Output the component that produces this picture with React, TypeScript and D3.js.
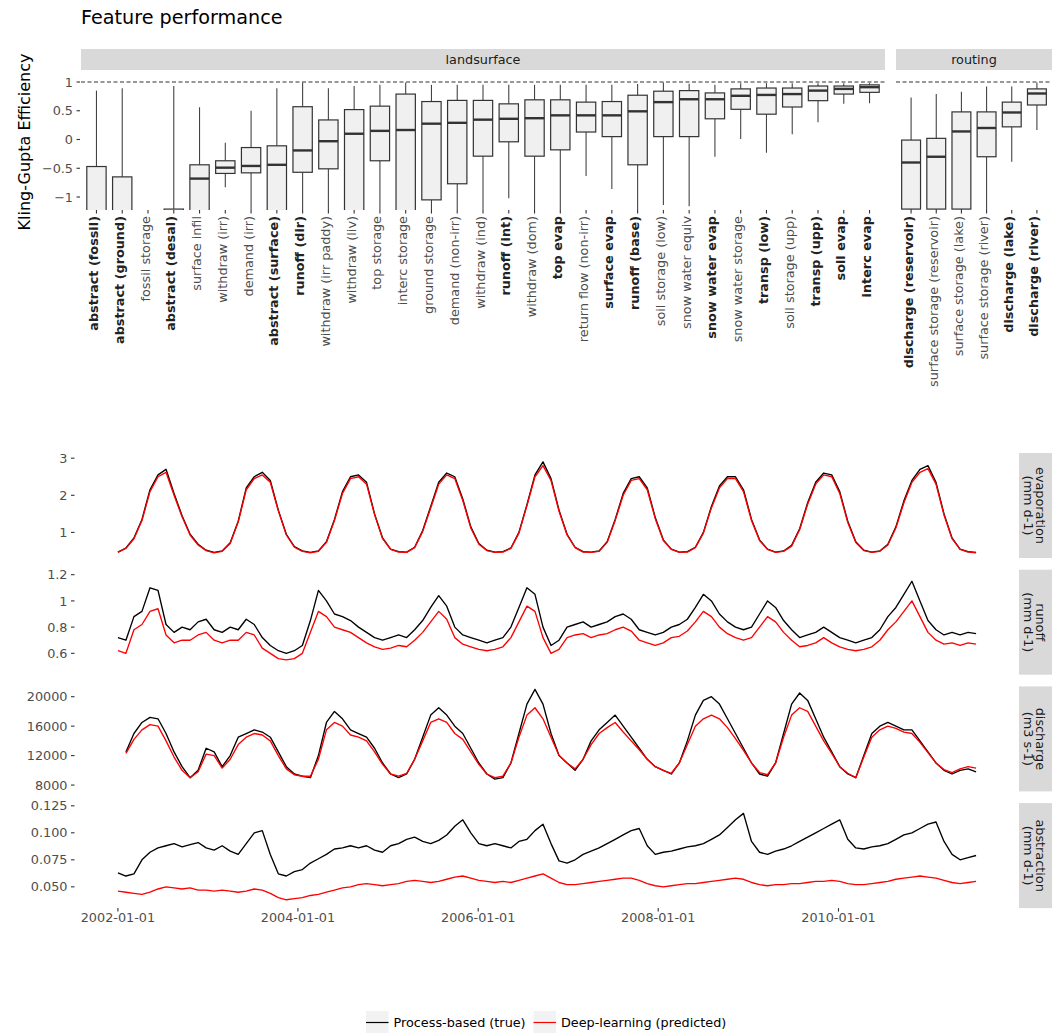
import React from "react";
import * as d3 from "d3";

const FONT = "'DejaVu Sans', sans-serif";

// ---------------- KGE box-plot data ----------------
const landCategories = [
  "abstract (fossil)", "abstract (ground)", "fossil storage", "abstract (desal)", "surface infil",
  "withdraw (irr)", "demand (irr)", "abstract (surface)", "runoff (dir)", "withdraw (irr paddy)",
  "withdraw (liv)", "top storage", "interc storage", "ground storage", "demand (non-irr)",
  "withdraw (ind)", "runoff (int)", "withdraw (dom)", "top evap", "return flow (non-irr)",
  "surface evap", "runoff (base)", "soil storage (low)", "snow water equiv", "snow water evap",
  "snow water storage", "transp (low)", "soil storage (upp)", "transp (upp)", "soil evap", "interc evap",
];
const landBold = [
  true, true, false, true, false, false, false, true, true, false, false, false, false, false, false,
  false, true, false, true, false, true, true, false, false, true, false, true, false, true, true, true,
];
const landLower = [-3, -3, -5, -4, -3, -0.83, -2, -3, -2.5, -2.5, -3, -2.5, -3, -2.5, -2.5, -2, -1.02, -2, -2, -0.635, -0.86, -2, -1.14, -1.16, -0.3, 0.01, -0.23, 0.09, 0.3, 0.62, 0.63];
const landQ1 = [-2.4, -2.4, -4, -3, -2, -0.59, -0.58, -1.8, -0.57, -0.51, -1.5, -0.37, -1.5, -1.05, -0.77, -0.29, -0.04, -0.29, -0.18, 0.13, 0.05, -0.44, 0.05, 0.05, 0.36, 0.525, 0.44, 0.565, 0.675, 0.79, 0.82];
const landMedian = [-1.6, -1.7, -3, -2, -0.68, -0.49, -0.46, -0.44, -0.19, -0.03, 0.1, 0.15, 0.165, 0.275, 0.29, 0.345, 0.36, 0.37, 0.42, 0.42, 0.42, 0.49, 0.65, 0.7, 0.7, 0.76, 0.775, 0.79, 0.85, 0.88, 0.91];
const landQ3 = [-0.47, -0.65, -2, -1.21, -0.44, -0.37, -0.14, -0.11, 0.57, 0.34, 0.52, 0.58, 0.79, 0.66, 0.68, 0.68, 0.62, 0.69, 0.69, 0.65, 0.66, 0.77, 0.84, 0.85, 0.81, 0.88, 0.895, 0.895, 0.93, 0.93, 0.95];
const landUpper = [0.85, 0.89, -1.5, 0.93, 0.56, -0.055, 0.5, 0.89, 0.99, 0.89, 0.93, 0.95, 0.99, 0.95, 0.95, 0.95, 0.95, 0.95, 0.95, 0.95, 0.95, 0.965, 0.99, 0.97, 0.95, 0.98, 0.98, 0.98, 0.98, 0.98, 0.98];

const routingCategories = [
  "discharge (reservoir)", "surface storage (reservoir)", "surface storage (lake)",
  "surface storage (river)", "discharge (lake)", "discharge (river)",
];
const routingBold = [true, false, false, false, true, true];
const routingLower = [-3, -3, -3, -2, -0.385, 0.165];
const routingQ1 = [-1.21, -1.21, -1.21, -0.3, 0.22, 0.6];
const routingMedian = [-0.4, -0.3, 0.14, 0.2, 0.47, 0.8];
const routingQ3 = [-0.01, 0.02, 0.48, 0.48, 0.65, 0.88];
const routingUpper = [0.73, 0.79, 0.83, 0.92, 0.92, 0.99];

const kgeTicks = [-1, -0.5, 0, 0.5, 1];
const kgeTickLabels = ["\u22121", "\u22120.5", "0", "0.5", "1"];

// ---------------- Time series data ----------------
const seriesStart = new Date(2002, 0, 1);
const seriesEnd = new Date(2011, 6, 13);

const evapTrue = [
  0.47, 0.58, 0.85, 1.35, 2.15, 2.55, 2.7, 2.05, 1.45, 0.95, 0.68, 0.52, 0.46, 0.5, 0.72, 1.3, 2.2, 2.5,
  2.62, 2.4, 1.6, 0.95, 0.62, 0.5, 0.46, 0.5, 0.75, 1.35, 2.1, 2.5, 2.55, 2.35, 1.5, 0.85, 0.55, 0.48,
  0.47, 0.6, 1.05, 1.7, 2.35, 2.6, 2.5, 1.9, 1.15, 0.7, 0.52, 0.47, 0.48, 0.58, 1.0, 1.75, 2.55, 2.9,
  2.45, 1.6, 0.95, 0.6, 0.48, 0.47, 0.5, 0.75, 1.35, 2.05, 2.45, 2.5, 2.2, 1.4, 0.8, 0.55, 0.47, 0.48,
  0.6, 1.0, 1.7, 2.25, 2.5, 2.5, 2.15, 1.35, 0.8, 0.55, 0.47, 0.5, 0.65, 1.1, 1.8, 2.35, 2.6, 2.55,
  2.1, 1.3, 0.75, 0.52, 0.47, 0.5, 0.68, 1.15, 1.85, 2.4, 2.7, 2.8, 2.35, 1.5, 0.85, 0.55, 0.48, 0.46,
];
const evapPred = [
  0.46, 0.57, 0.83, 1.32, 2.1, 2.5, 2.62, 2.0, 1.42, 0.93, 0.66, 0.51, 0.45, 0.49, 0.7, 1.28, 2.15, 2.45,
  2.55, 2.35, 1.58, 0.93, 0.6, 0.49, 0.45, 0.49, 0.73, 1.32, 2.05, 2.45, 2.5, 2.3, 1.48, 0.83, 0.54, 0.47,
  0.46, 0.59, 1.02, 1.66, 2.3, 2.55, 2.45, 1.86, 1.12, 0.68, 0.51, 0.46, 0.47, 0.57, 0.98, 1.72, 2.5, 2.8,
  2.4, 1.57, 0.93, 0.59, 0.47, 0.46, 0.49, 0.73, 1.32, 2.0, 2.4, 2.45, 2.15, 1.37, 0.78, 0.54, 0.46, 0.47,
  0.59, 0.98, 1.66, 2.2, 2.45, 2.45, 2.1, 1.32, 0.78, 0.54, 0.46, 0.49, 0.63, 1.07, 1.76, 2.3, 2.55, 2.5,
  2.05, 1.27, 0.73, 0.51, 0.46, 0.49, 0.66, 1.12, 1.8, 2.35, 2.62, 2.72, 2.3, 1.47, 0.83, 0.54, 0.47, 0.45,
];
const runoffTrue = [
  0.72, 0.7, 0.88, 0.92, 1.1, 1.08, 0.82, 0.76, 0.8, 0.78, 0.84, 0.86, 0.78, 0.76, 0.8, 0.78, 0.86, 0.82,
  0.72, 0.66, 0.62, 0.6, 0.62, 0.66, 0.85, 1.08, 1.0, 0.9, 0.88, 0.85, 0.8, 0.76, 0.72, 0.7, 0.72, 0.74,
  0.72, 0.78, 0.85, 0.95, 1.04, 0.96, 0.8, 0.74, 0.72, 0.7, 0.68, 0.7, 0.72, 0.8, 0.95, 1.1, 1.05, 0.8,
  0.66, 0.7, 0.8, 0.82, 0.84, 0.8, 0.82, 0.84, 0.88, 0.9, 0.86, 0.78, 0.76, 0.74, 0.76, 0.8, 0.82, 0.86,
  0.95, 1.05, 1.0, 0.9, 0.84, 0.8, 0.78, 0.8, 0.9, 1.0, 0.95, 0.85, 0.78, 0.72, 0.74, 0.76, 0.8, 0.76,
  0.72, 0.7, 0.68, 0.7, 0.72, 0.78, 0.88, 0.95, 1.05, 1.15, 1.0, 0.85, 0.78, 0.74, 0.76, 0.74, 0.76, 0.75,
];
const runoffPred = [
  0.62, 0.6, 0.78, 0.82, 0.92, 0.94, 0.74, 0.68, 0.7, 0.7, 0.74, 0.76, 0.7, 0.68, 0.7, 0.7, 0.76, 0.74,
  0.64, 0.6, 0.56, 0.55, 0.56, 0.6, 0.76, 0.92, 0.88, 0.8, 0.78, 0.76, 0.72, 0.68, 0.65, 0.63, 0.64, 0.66,
  0.65, 0.7, 0.76, 0.84, 0.92, 0.86, 0.72, 0.67, 0.65, 0.63, 0.62, 0.63, 0.65, 0.72, 0.84, 0.96, 0.92, 0.72,
  0.6, 0.63, 0.72, 0.74, 0.75, 0.72, 0.74, 0.75, 0.78, 0.8, 0.77, 0.7, 0.68, 0.66, 0.68, 0.72, 0.73, 0.77,
  0.84, 0.92, 0.88, 0.8, 0.75, 0.72, 0.7, 0.72, 0.8, 0.88, 0.84, 0.76, 0.7, 0.65, 0.66, 0.68, 0.72, 0.68,
  0.65, 0.63, 0.62, 0.63, 0.65, 0.7, 0.78, 0.84, 0.92, 1.0, 0.88, 0.76, 0.7, 0.67, 0.68, 0.66, 0.68, 0.67,
];
const dischargeTrue = [
  null, 12500, 15000, 16500, 17200, 17000, 15000, 12500, 10500, 9000, 10000, 13000, 12500, 10500, 12000, 14500, 15000, 15500,
  15200, 14500, 12500, 10500, 9500, 9200, 9000, 12000, 16500, 18000, 17000, 15500, 15000, 14500, 13000, 11000, 9500, 9000,
  9500, 11500, 14500, 17500, 18500, 17500, 16000, 15000, 13000, 11000, 9500, 8800, 9000, 11000, 15000, 19000, 21000, 19000,
  15000, 12000, 11000, 10000, 11500, 14000, 15500, 16500, 17500, 16000, 14500, 13000, 11500, 10500, 10000, 9500, 11000, 14000,
  17500, 19500, 20000, 19000, 17000, 15000, 13000, 11000, 9500, 9200, 11000, 15000, 19000, 20500, 19500, 17000, 14500, 12500,
  10500, 9500, 9000, 12000, 15000, 16000, 16500, 16000, 15500, 15500, 14000, 12500, 11000, 10000, 9500, 10000, 10200, 9800,
];
const dischargePred = [
  null, 12300, 14200, 15500, 16200, 16000, 14000, 11800, 10000, 9000, 9800, 12200, 12000, 10300, 11500, 13500, 14500, 15000,
  14800, 14000, 12000, 10200, 9400, 9200, 9200, 11500, 15500, 16500, 16000, 14800, 14500, 14000, 12500, 10800, 9500, 9200,
  9600, 11500, 14000, 16500, 17000, 16500, 15000, 14200, 12500, 10800, 9500, 9000, 9200, 11000, 14500, 17500, 18500, 17000,
  14500, 12000, 11000, 10200, 11500, 13500, 15000, 15800, 16500, 15200, 14000, 12800, 11500, 10500, 10000, 9600, 11000, 13500,
  16000, 17000, 17500, 17000, 15800, 14300, 12700, 11000, 9700, 9400, 11000, 14500, 17500, 18500, 18000, 16000, 14000, 12300,
  10500, 9600, 9000, 11800, 14500, 15500, 16000, 15700, 15200, 15000, 13800, 12400, 11000, 10100, 9700, 10200, 10500, 10300,
];
const abstractionTrue = [
  0.063, 0.06, 0.062, 0.075, 0.082, 0.086, 0.088, 0.09, 0.087, 0.089, 0.091, 0.086, 0.084, 0.088, 0.083, 0.08, 0.09, 0.1,
  0.102, 0.08, 0.062, 0.06, 0.064, 0.066, 0.072, 0.076, 0.08, 0.085, 0.086, 0.088, 0.086, 0.088, 0.084, 0.082, 0.088, 0.09,
  0.094, 0.096, 0.092, 0.09, 0.093, 0.098, 0.106, 0.112, 0.1, 0.09, 0.088, 0.09, 0.088, 0.086, 0.092, 0.094, 0.102, 0.108,
  0.09, 0.074, 0.072, 0.075, 0.08, 0.083, 0.086, 0.09, 0.094, 0.098, 0.102, 0.104, 0.088, 0.08, 0.082, 0.083, 0.085, 0.087,
  0.088, 0.09, 0.094, 0.098, 0.105, 0.112, 0.118, 0.092, 0.082, 0.08, 0.083, 0.085, 0.088, 0.092, 0.096, 0.1, 0.104, 0.108,
  0.112, 0.094, 0.086, 0.085, 0.087, 0.088, 0.09, 0.094, 0.098, 0.1, 0.104, 0.108, 0.11, 0.092, 0.08, 0.075, 0.077, 0.079,
];
const abstractionPred = [
  0.046, 0.045, 0.044, 0.043, 0.045, 0.048, 0.05, 0.049, 0.048, 0.049, 0.047, 0.047, 0.046, 0.047, 0.046, 0.045, 0.046, 0.048,
  0.047, 0.044, 0.04, 0.038, 0.039, 0.04, 0.042, 0.043, 0.045, 0.047, 0.049, 0.05, 0.052, 0.053, 0.052, 0.051, 0.052, 0.053,
  0.055, 0.056, 0.055, 0.054, 0.055, 0.057, 0.059, 0.06, 0.058, 0.056, 0.055, 0.054, 0.055, 0.054, 0.056, 0.058, 0.06, 0.062,
  0.058, 0.054, 0.052, 0.052, 0.053, 0.054, 0.055, 0.056, 0.057, 0.058, 0.058, 0.056, 0.053, 0.051, 0.05, 0.051, 0.052, 0.053,
  0.053, 0.054, 0.055, 0.056, 0.057, 0.058, 0.057, 0.054, 0.052, 0.051, 0.052, 0.052, 0.053, 0.053, 0.054, 0.055, 0.055, 0.056,
  0.055, 0.053, 0.052, 0.052, 0.053, 0.054, 0.055, 0.057, 0.058, 0.059, 0.06, 0.059, 0.058, 0.056, 0.054, 0.053, 0.054, 0.055,
];

const evapTicks = [1, 2, 3];
const evapTickLabels = ["1", "2", "3"];
const runoffTicks = [0.6, 0.8, 1.0, 1.2];
const runoffTickLabels = ["0.6", "0.8", "1", "1.2"];
const dischargeTicks = [8000, 12000, 16000, 20000];
const dischargeTickLabels = ["8000", "12000", "16000", "20000"];
const abstractionTicks = [0.05, 0.075, 0.1, 0.125];
const abstractionTickLabels = ["0.050", "0.075", "0.100", "0.125"];

const dateTicks = [new Date(2002, 0, 1), new Date(2004, 0, 1), new Date(2006, 0, 1), new Date(2008, 0, 1), new Date(2010, 0, 1)];
const dateTickLabels = ["2002-01-01", "2004-01-01", "2006-01-01", "2008-01-01", "2010-01-01"];

const legendLabels = ["Process-based (true)", "Deep-learning (predicted)"];
const legendColors = ["#000000", "#ff0000"];

// ---------------- Components ----------------
const TICK_COLOR = "#333333";
const TEXT_COLOR = "#4d4d4d";
const STRIP_FILL = "#d9d9d9";
const TICK_FS = 12.8;

type BoxFacet = {
  name: string;
  cats: string[];
  bold: boolean[];
  lower: number[];
  q1: number[];
  med: number[];
  q3: number[];
  upper: number[];
  x0: number;
  x1: number;
};

function BoxPanel({ f, y, top, bottom, id }: { f: BoxFacet; y: d3.ScaleLinear<number, number>; top: number; bottom: number; id: string }) {
  const x = d3.scaleBand<string>().domain(f.cats).range([f.x0, f.x1]).paddingInner(0).paddingOuter(0.1);
  const bw = x.step() * 0.75;
  return (
    <g>
      <rect x={f.x0} y={49} width={f.x1 - f.x0} height={21} fill={STRIP_FILL} />
      <text x={(f.x0 + f.x1) / 2} y={64} textAnchor="middle" fontSize={TICK_FS} fill="#1a1a1a">{f.name}</text>
      <clipPath id={id}>
        <rect x={f.x0} y={top} width={f.x1 - f.x0} height={bottom - top} />
      </clipPath>
      <g clipPath={`url(#${id})`}>
        <line x1={f.x0} x2={f.x1} y1={y(1)} y2={y(1)} stroke="#333" strokeWidth={1.1} strokeDasharray="4,2.5" />
        {f.cats.map((c, i) => {
          const cx = (x(c) as number) + x.bandwidth() / 2;
          return (
            <g key={c}>
              <line x1={cx} x2={cx} y1={y(f.upper[i])} y2={y(f.q3[i])} stroke="#444" strokeWidth={1.1} />
              <line x1={cx} x2={cx} y1={y(f.q1[i])} y2={y(f.lower[i])} stroke="#444" strokeWidth={1.1} />
              <rect x={cx - bw / 2} y={y(f.q3[i])} width={bw} height={y(f.q1[i]) - y(f.q3[i])} fill="#f0f0f0" stroke="#333" strokeWidth={1.2} />
              <line x1={cx - bw / 2} x2={cx + bw / 2} y1={y(f.med[i])} y2={y(f.med[i])} stroke="#333" strokeWidth={2.4} />
            </g>
          );
        })}
      </g>
      {f.cats.map((c, i) => {
        const cx = (x(c) as number) + x.bandwidth() / 2;
        return (
          <g key={c + "t"}>
            <line x1={cx} x2={cx} y1={bottom} y2={bottom + 3.5} stroke={TICK_COLOR} strokeWidth={1.1} />
            <text
              transform={`translate(${cx + 1.5},${bottom + 6}) rotate(-90)`}
              textAnchor="end"
              fontSize={TICK_FS}
              fontWeight={f.bold[i] ? "bold" : "normal"}
              fill={f.bold[i] ? "#222" : TEXT_COLOR}
            >
              {c}
            </text>
          </g>
        );
      })}
    </g>
  );
}

export default function App() {
  const W = 1061;
  const H = 1033;

  // ---- top facets ----
  const boxTop = 74;
  const boxBottom = 210;
  const yKge = d3.scaleLinear().domain([-1.226, 1.139]).range([boxBottom, boxTop]);
  const facets: BoxFacet[] = [
    { name: "landsurface", cats: landCategories, bold: landBold, lower: landLower, q1: landQ1, med: landMedian, q3: landQ3, upper: landUpper, x0: 81, x1: 885 },
    { name: "routing", cats: routingCategories, bold: routingBold, lower: routingLower, q1: routingQ1, med: routingMedian, q3: routingQ3, upper: routingUpper, x0: 896, x1: 1052 },
  ];

  // ---- time series facets ----
  const N = evapTrue.length;
  const dates = d3.range(N).map((i) => new Date(+seriesStart + (i * (+seriesEnd - +seriesStart)) / (N - 1)));
  const span = +seriesEnd - +seriesStart;
  const tsLeft = 75;
  const tsRight = 1019;
  const xT = d3
    .scaleTime()
    .domain([new Date(+seriesStart - 0.05 * span), new Date(+seriesEnd + 0.05 * span)])
    .range([tsLeft, tsRight]);

  const panelH = 105;
  const panelGap = 11.7;
  const firstTop = 453;
  const tsPanels = [
    { lines: ["evaporation", "(mm d-1)"], truth: evapTrue, pred: evapPred, domain: [0.31, 3.14], ticks: evapTicks, labels: evapTickLabels },
    { lines: ["runoff", "(mm d-1)"], truth: runoffTrue, pred: runoffPred, domain: [0.437, 1.238], ticks: runoffTicks, labels: runoffTickLabels },
    { lines: ["discharge", "(m3 s-1)"], truth: dischargeTrue, pred: dischargePred, domain: [7138, 21399], ticks: dischargeTicks, labels: dischargeTickLabels },
    { lines: ["abstraction", "(mm d-1)"], truth: abstractionTrue, pred: abstractionPred, domain: [0.0303, 0.1275], ticks: abstractionTicks, labels: abstractionTickLabels },
  ];
  const lastBottom = firstTop + 3 * (panelH + panelGap) + panelH;

  return (
    <svg
      width={W}
      height={H}
      viewBox={`0 0 ${W} ${H}`}
      style={{ position: "absolute", left: 0, top: 0, display: "block", background: "#fff" }}
      fontFamily={FONT}
    >
      <rect x={0} y={0} width={W} height={H} fill="#fff" />
      {/* title */}
      <text x={81} y={24} fontSize={19.2} fill="#000">Feature performance</text>
      {/* y-axis title */}
      <text transform={`translate(30,${(boxTop + boxBottom) / 2}) rotate(-90)`} textAnchor="middle" fontSize={16} fill="#000">
        Kling-Gupta Efficiency
      </text>
      {/* y ticks top */}
      {kgeTicks.map((t, i) => (
        <g key={t}>
          <line x1={76.5} x2={80} y1={yKge(t)} y2={yKge(t)} stroke={TICK_COLOR} strokeWidth={1.1} />
          <text x={73} y={yKge(t)} dy="0.36em" textAnchor="end" fontSize={TICK_FS} fill={TEXT_COLOR}>{kgeTickLabels[i]}</text>
        </g>
      ))}
      {facets.map((f, i) => (
        <BoxPanel key={f.name} f={f} y={yKge} top={boxTop} bottom={boxBottom} id={`clipbox${i}`} />
      ))}

      {/* time series */}
      {tsPanels.map((p, k) => {
        const top = firstTop + k * (panelH + panelGap);
        const bottom = top + panelH;
        const y = d3.scaleLinear().domain(p.domain).range([bottom, top]);
        const line = d3
          .line<number | null>()
          .defined((d) => d !== null)
          .x((_, i) => xT(dates[i]))
          .y((d) => y(d as number));
        return (
          <g key={p.lines[0]}>
            {p.ticks.map((t, i) => (
              <g key={t}>
                <line x1={71} x2={74.5} y1={y(t)} y2={y(t)} stroke={TICK_COLOR} strokeWidth={1.1} />
                <text x={67.5} y={y(t)} dy="0.36em" textAnchor="end" fontSize={TICK_FS} fill={TEXT_COLOR}>{p.labels[i]}</text>
              </g>
            ))}
            <path d={line(p.truth as (number | null)[]) || ""} fill="none" stroke={legendColors[0]} strokeWidth={1.35} strokeLinejoin="round" />
            <path d={line(p.pred as (number | null)[]) || ""} fill="none" stroke={legendColors[1]} strokeWidth={1.35} strokeLinejoin="round" />
            <rect x={1019} y={top} width={33} height={panelH} fill={STRIP_FILL} />
            <text transform={`translate(1035.5,${top + panelH / 2}) rotate(90)`} textAnchor="middle" fontSize={TICK_FS} fill="#1a1a1a">
              <tspan x={0} y={-0.5}>{p.lines[0]}</tspan>
              <tspan x={0} y={11.8}>{p.lines[1]}</tspan>
            </text>
          </g>
        );
      })}
      {/* x axis for time series */}
      {dateTicks.map((d, i) => (
        <g key={dateTickLabels[i]}>
          <line x1={xT(d)} x2={xT(d)} y1={lastBottom} y2={lastBottom + 3.5} stroke={TICK_COLOR} strokeWidth={1.1} />
          <text x={xT(d)} y={lastBottom + 14} textAnchor="middle" fontSize={TICK_FS} fill={TEXT_COLOR}>{dateTickLabels[i]}</text>
        </g>
      ))}

      {/* legend */}
      {legendLabels.map((lab, i) => {
        const kx = i === 0 ? 366 : 533.5;
        return (
          <g key={lab}>
            <rect x={kx} y={1011} width={22.5} height={22} fill="#f2f2f2" />
            <line x1={kx} x2={kx + 22.5} y1={1022.5} y2={1022.5} stroke={legendColors[i]} strokeWidth={1.2} />
            <text x={kx + 27.5} y={1027} fontSize={TICK_FS} fill="#000">{lab}</text>
          </g>
        );
      })}
    </svg>
  );
}
